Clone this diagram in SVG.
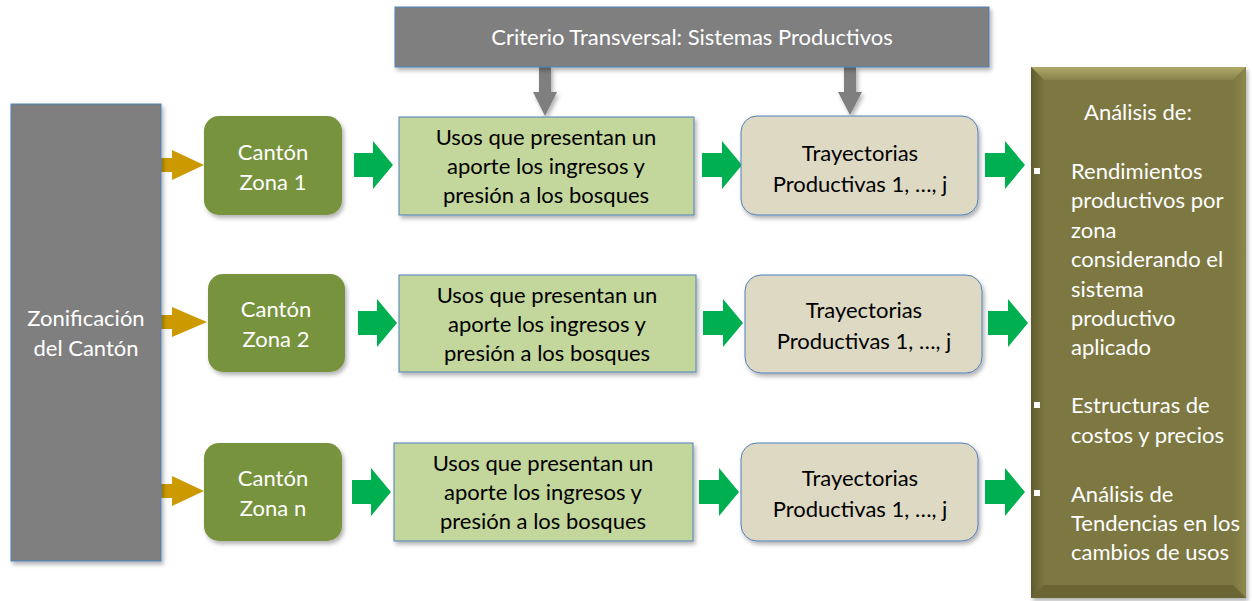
<svg xmlns="http://www.w3.org/2000/svg" width="1252" height="601" viewBox="0 0 1252 601">
<defs>
<style>
text{font-family:Lato,"Open Sans","Liberation Sans",sans-serif;font-size:22px}
.w{fill:#ffffff}
.k{fill:#000000}
.c{text-anchor:middle}
.gray{fill:#7f7f7f;stroke:#4f81bd;stroke-width:1}
.canton{fill:#77933c}
.usos{fill:#c3d69b;stroke:#4f81bd;stroke-width:1}
.tray{fill:#ddd9c3;stroke:#4f81bd;stroke-width:1}
.gold{fill:#cc9900}
.grn{fill:#00b050}
.darr{fill:#7f7f7f}
</style>
<filter id="sh" x="-10%" y="-10%" width="130%" height="130%">
<feDropShadow dx="2" dy="3" stdDeviation="2" flood-color="#000" flood-opacity="0.3"/>
</filter>
<linearGradient id="lft" x1="0" y1="0" x2="1" y2="0">
<stop offset="0" stop-color="#5f5b2e"/>
<stop offset="1" stop-color="#7b763f"/>
</linearGradient>
<linearGradient id="rgt" x1="0" y1="0" x2="1" y2="0">
<stop offset="0" stop-color="#7e7943"/>
<stop offset="1" stop-color="#8c874c"/>
</linearGradient>
<linearGradient id="top" x1="0" y1="0" x2="0" y2="1">
<stop offset="0" stop-color="#b0aa6a"/>
<stop offset="1" stop-color="#878249"/>
</linearGradient>
</defs>
<rect width="1252" height="601" fill="#ffffff"/>

<g id="connectors">
<!-- gray down arrows -->
<polygon class="darr" filter="url(#sh)" points="539,67 551,67 551,92 557,92 545,116 533,92 539,92"/>
<polygon class="darr" filter="url(#sh)" points="844,67 856,67 856,92 862,92 850,115 838,92 844,92"/>
<!-- gold arrows -->
<polygon class="gold" points="161,158 172,158 172,150 204,165 172,180 172,172 161,172"/>
<polygon class="gold" points="161,315 172,315 172,307 207,322 172,337 172,329 161,329"/>
<polygon class="gold" points="161,484 172,484 172,476 204,491 172,506 172,498 161,498"/>
<!-- green arrows row 1 -->
<polygon class="grn" points="354,153 373,153 373,141 393,165 373,189 373,177 354,177"/>
<polygon class="grn" points="702,153 722,153 722,141 742,165 722,189 722,177 702,177"/>
<polygon class="grn" points="985,153 1005,153 1005,141 1025,165 1005,189 1005,177 985,177"/>
<!-- row 2 -->
<polygon class="grn" points="358,311 377,311 377,299 397,323 377,347 377,335 358,335"/>
<polygon class="grn" points="703,311 723,311 723,299 743,323 723,347 723,335 703,335"/>
<polygon class="grn" points="988,311 1008,311 1008,299 1028,323 1008,347 1008,335 988,335"/>
<!-- row 3 -->
<polygon class="grn" points="352,480 371,480 371,468 391,492 371,516 371,504 352,504"/>
<polygon class="grn" points="699,480 719,480 719,468 739,492 719,516 719,504 699,504"/>
<polygon class="grn" points="985,480 1005,480 1005,468 1025,492 1005,516 1005,504 985,504"/>
</g>

<g id="criterio">
<rect class="gray" filter="url(#sh)" x="395" y="7" width="594" height="60"/>
<text class="w c" x="692" y="45">Criterio Transversal: Sistemas Productivos</text>
</g>

<g id="zonificacion">
<rect class="gray" filter="url(#sh)" x="11" y="104" width="150" height="457"/>
<text class="w c" x="86" y="326">Zonificación</text>
<text class="w c" x="86" y="356">del Cantón</text>
</g>

<g id="canton1">
<rect class="canton" filter="url(#sh)" x="204" y="116" width="138" height="99" rx="15"/>
<text class="w c" x="273" y="160">Cantón</text>
<text class="w c" x="273" y="190">Zona 1</text>
</g>
<g id="canton2">
<rect class="canton" filter="url(#sh)" x="208" y="274" width="137" height="98" rx="15"/>
<text class="w c" x="276" y="317">Cantón</text>
<text class="w c" x="276" y="347">Zona 2</text>
</g>
<g id="cantonn">
<rect class="canton" filter="url(#sh)" x="204" y="443" width="138" height="98" rx="15"/>
<text class="w c" x="273" y="486">Cantón</text>
<text class="w c" x="273" y="516">Zona n</text>
</g>

<g id="usos1">
<rect class="usos" filter="url(#sh)" x="399" y="117" width="295" height="98"/>
<text class="k c" x="546" y="145">Usos que presentan un</text>
<text class="k c" x="546" y="174">aporte los ingresos y</text>
<text class="k c" x="546" y="203">presión a los bosques</text>
</g>
<g id="usos2">
<rect class="usos" filter="url(#sh)" x="399" y="275" width="297" height="97"/>
<text class="k c" x="547" y="303">Usos que presentan un</text>
<text class="k c" x="547" y="332">aporte los ingresos y</text>
<text class="k c" x="547" y="361">presión a los bosques</text>
</g>
<g id="usosn">
<rect class="usos" filter="url(#sh)" x="394" y="443" width="299" height="98"/>
<text class="k c" x="543" y="471">Usos que presentan un</text>
<text class="k c" x="543" y="500">aporte los ingresos y</text>
<text class="k c" x="543" y="529">presión a los bosques</text>
</g>

<g id="tray1">
<rect class="tray" filter="url(#sh)" x="741" y="116" width="237" height="99" rx="16"/>
<text class="k c" x="860" y="161">Trayectorias</text>
<text class="k c" x="860" y="192">Productivas 1, …, j</text>
</g>
<g id="tray2">
<rect class="tray" filter="url(#sh)" x="745" y="275" width="237" height="98" rx="16"/>
<text class="k c" x="864" y="318">Trayectorias</text>
<text class="k c" x="864" y="349">Productivas 1, …, j</text>
</g>
<g id="trayn">
<rect class="tray" filter="url(#sh)" x="741" y="443" width="237" height="98" rx="16"/>
<text class="k c" x="860" y="486">Trayectorias</text>
<text class="k c" x="860" y="517">Productivas 1, …, j</text>
</g>

<g id="analisis">
<rect x="1031" y="67" width="215" height="531" fill="#7d7842" filter="url(#sh)"/>
<polygon points="1031,67 1246,67 1233,80 1044,80" fill="url(#top)"/>
<polygon points="1031,67 1044,80 1044,585 1031,598" fill="url(#lft)"/>
<polygon points="1246,67 1246,598 1233,585 1233,80" fill="url(#rgt)"/>
<polygon points="1031,598 1044,585 1233,585 1246,598" fill="#6a6533"/>
<rect x="1044" y="80" width="189" height="505" fill="#7d7842"/>
<text class="w c" x="1138" y="120">Análisis de:</text>
<rect x="1034" y="168" width="6" height="6" fill="#ffffff"/>
<text class="w" x="1071" y="179">Rendimientos</text>
<text class="w" x="1071" y="208">productivos por</text>
<text class="w" x="1071" y="238">zona</text>
<text class="w" x="1071" y="267">considerando el</text>
<text class="w" x="1071" y="297">sistema</text>
<text class="w" x="1071" y="326">productivo</text>
<text class="w" x="1071" y="355">aplicado</text>
<rect x="1034" y="402" width="6" height="6" fill="#ffffff"/>
<text class="w" x="1071" y="413">Estructuras de</text>
<text class="w" x="1071" y="443">costos y precios</text>
<rect x="1034" y="490" width="6" height="6" fill="#ffffff"/>
<text class="w" x="1071" y="502">Análisis de</text>
<text class="w" x="1071" y="531">Tendencias en los</text>
<text class="w" x="1071" y="560">cambios de usos</text>
</g>
</svg>
